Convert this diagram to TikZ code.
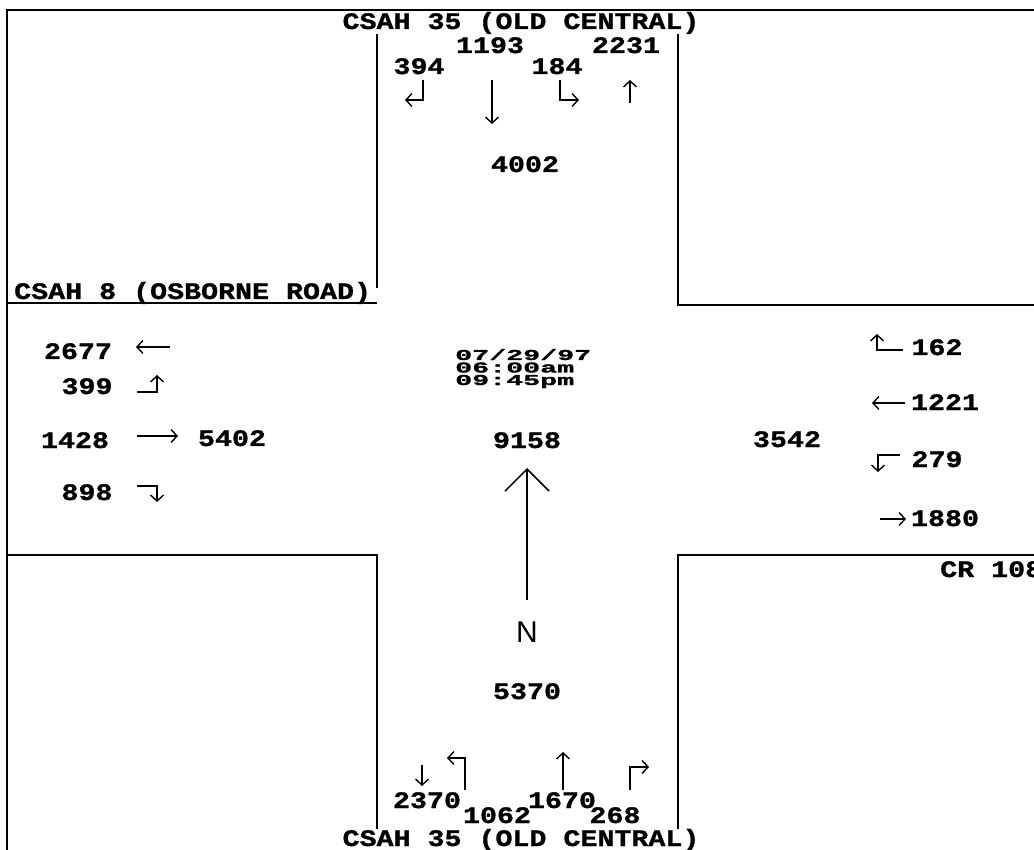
\documentclass[tikz,border=0pt]{standalone}
\usepackage{fontspec}
\newfontfamily\bmfont[FakeStretch=1.2,BoldFeatures={FakeBold=1.2}]{Liberation Mono}
\newfontfamily\nfont{Liberation Sans}
\usetikzlibrary{arrows.meta}
\begin{document}
\begin{tikzpicture}[x=1pt,y=-1pt,
  lbl/.style={font=\bmfont\bfseries\fontsize{23.6}{24}\selectfont, inner sep=0pt, anchor=base},
  datelbl/.style={font=\bmfont\bfseries\fontsize{23.6}{12.5}\selectfont, inner sep=0pt, anchor=base west, text height=9.5pt, text depth=0.5pt},
  road/.style={line width=2pt},
  arr/.style={line width=1.4pt, -{Straight Barb[length=6pt,width=13pt]}},
  bigarr/.style={line width=1.5pt, -{Straight Barb[length=22pt,width=44pt]}},
]
\useasboundingbox (0,0) rectangle (1034,850);
\clip (0,0) rectangle (1034,850);
\fill[white] (0,0) rectangle (1034,850);
% road edges
\draw[road] (7,850) -- (7,10) -- (1034,10);
\draw[road] (377,30) -- (377,288);
\draw[road] (7,303) -- (377,303);
\draw[road] (678,30) -- (678,305) -- (1034,305);
\draw[road] (7,555) -- (377,555) -- (377,850);
\draw[road] (1034,555) -- (678,555) -- (678,850);
% street names
\node[lbl, fill=white] (ntop) at (521,29) {CSAH 35 (OLD CENTRAL)};
\node[lbl, fill=white] (nbot) at (521,846) {CSAH 35 (OLD CENTRAL)};
\node[lbl, anchor=base west] (nleft) at (14,299) {CSAH 8 (OSBORNE ROAD)};
\node[lbl, anchor=base west] (nright) at (940,577) {CR 108};
% north approach
\node[lbl] (t1193) at (490,53) {1193};
\node[lbl] (t2231) at (626,53) {2231};
\node[lbl] (t394) at (419,74) {394};
\node[lbl] (t184) at (557,74) {184};
\node[lbl] (t4002) at (525,172) {4002};
\draw[arr] (423,80) -- (423,100) -- (405,100);
\draw[arr] (492,80) -- (492,124);
\draw[arr] (560,80) -- (560,100) -- (579,100);
\draw[arr] (630,103) -- (630,80);
% west approach
\node[lbl] (l2677) at (78,359) {2677};
\node[lbl] (l399) at (87,394) {399};
\node[lbl] (l1428) at (75,448) {1428};
\node[lbl] (l898) at (87,500) {898};
\node[lbl] (l5402) at (232,446) {5402};
\draw[arr] (170,347) -- (136,347);
\draw[arr] (137,392) -- (157,392) -- (157,375);
\draw[arr] (137,436) -- (178,436);
\draw[arr] (137,486) -- (157,486) -- (157,502);
% east approach
\node[lbl] (r162) at (937,355) {162};
\node[lbl] (r1221) at (945,410) {1221};
\node[lbl] (r279) at (937,467) {279};
\node[lbl] (r1880) at (945,526) {1880};
\node[lbl] (r3542) at (787,447) {3542};
\draw[arr] (903,350) -- (877,350) -- (877,334);
\draw[arr] (905,403) -- (872,403);
\draw[arr] (900,455) -- (878,455) -- (878,472);
\draw[arr] (880,519) -- (906,519);
% centre
\node[datelbl] (date1) at (455,360) {\scalebox{1}[0.64]{07/29/97}};
\node[datelbl] (date2) at (455,372.5) {\scalebox{1}[0.64]{06:00am}};
\node[datelbl] (date3) at (455,385) {\scalebox{1}[0.64]{09:45pm}};
\node[lbl] (c9158) at (527,448) {9158};
\node[font=\nfont\fontsize{30}{30}\selectfont, inner sep=0pt] (north) at (527,632) {N};
\draw[bigarr] (527,600) -- (527,468);
\node[lbl] (c5370) at (527,699) {5370};
% south approach
\node[lbl] (b2370) at (427,808) {2370};
\node[lbl] (b1670) at (562,808) {1670};
\node[lbl] (b1062) at (497,823) {1062};
\node[lbl] (b268) at (615,823) {268};
\draw[arr] (422,765) -- (422,786);
\draw[arr] (465,790) -- (465,758) -- (447,758);
\draw[arr] (563,790) -- (563,752);
\draw[arr] (630,790) -- (630,767) -- (649,767);
\end{tikzpicture}
\end{document}
